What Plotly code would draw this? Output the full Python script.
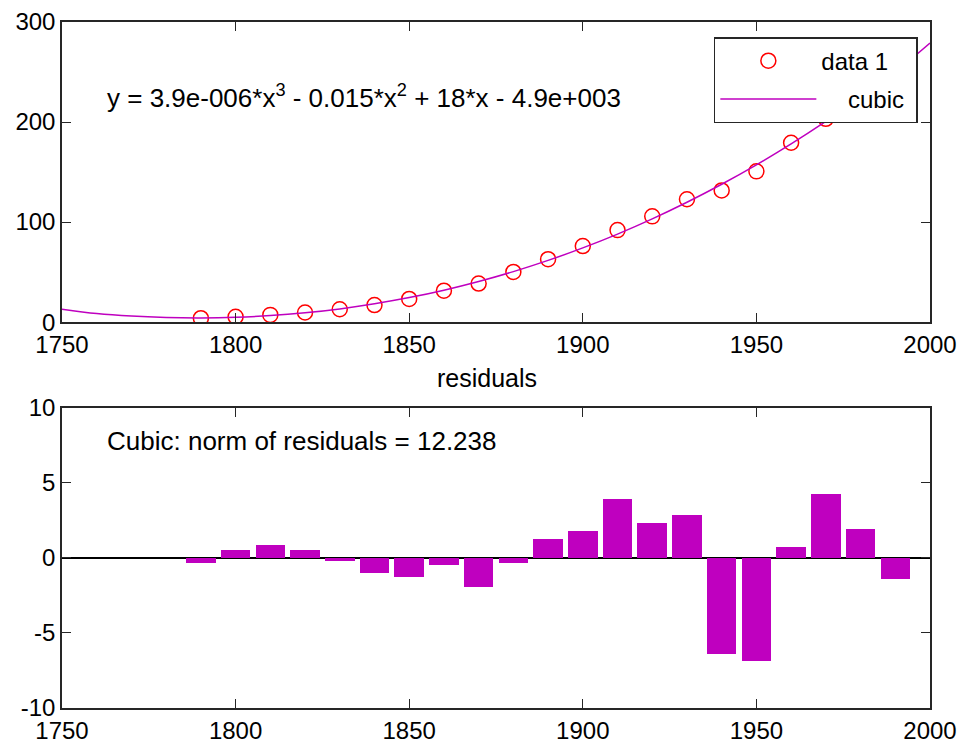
import plotly.graph_objects as go
from plotly.subplots import make_subplots

# census years and population (millions)
years = [1790, 1800, 1810, 1820, 1830, 1840, 1850, 1860, 1870, 1880, 1890,
         1900, 1910, 1920, 1930, 1940, 1950, 1960, 1970, 1980, 1990]
population = [3.93, 5.31, 7.24, 9.64, 12.87, 17.07, 23.19, 31.44, 38.56, 50.16, 62.95,
              76.00, 91.97, 105.71, 122.78, 131.67, 150.70, 179.32, 203.21, 226.51, 248.71]

# cubic fit curve, every 10 years
fit_years = [1750, 1760, 1770, 1780, 1790, 1800, 1810, 1820, 1830, 1840, 1850, 1860, 1870,
             1880, 1890, 1900, 1910, 1920, 1930, 1940, 1950, 1960, 1970, 1980, 1990, 2000]
fit_values = [13.0, 8.6, 6.0, 4.6, 4.2, 4.8, 6.5, 9.3, 13.2, 18.3, 24.5, 31.9, 40.6,
              50.5, 61.7, 74.2, 88.0, 103.2, 119.8, 137.8, 157.2, 178.1, 200.6, 224.5, 250.0, 279.0]

# residuals (data - fit)
residuals = [-0.31, 0.56, 0.84, 0.56, -0.2, -1.0, -1.27, -0.47, -1.96, -0.33, 1.24,
             1.78, 3.91, 2.31, 2.84, -6.36, -6.89, 0.73, 4.29, 1.91, -1.4]

x_ticks = [1750, 1800, 1850, 1900, 1950, 2000]
top_ticks = [0, 100, 200, 300]
res_ticks = [-10, -5, 0, 5, 10]

FONT = "Liberation Sans, Arial, sans-serif"
MAG = "#BF00BF"
NB = "\u00a0"

fig = make_subplots(rows=2, cols=1, vertical_spacing=0.125)

fig.add_trace(go.Scatter(
    x=years, y=population, mode="markers", name="data 1" + NB, legendgroup="a",
    marker=dict(symbol="circle-open", size=15, color="red", line=dict(width=1.5, color="red")),
), row=1, col=1)
fig.add_trace(go.Scatter(
    x=fit_years, y=fit_values, mode="lines", name=NB * 4 + "cubic" + NB, legendgroup="b",
    line=dict(color=MAG, width=1.5, shape="spline"),
), row=1, col=1)
fig.add_trace(go.Bar(
    x=years, y=residuals, width=8.5, marker=dict(color=MAG, line=dict(width=0)),
    showlegend=False,
), row=2, col=1)

axis_style = dict(
    showline=True, linecolor="#262626", linewidth=1.5, mirror="ticks",
    ticks="inside", ticklen=9, tickwidth=1.3, tickcolor="#262626",
    showgrid=False, zeroline=False, automargin=False,
    tickfont=dict(family=FONT, size=24, color="black"),
)

fig.update_xaxes(range=[1750, 2000], tickvals=x_ticks, ticktext=[str(v) for v in x_ticks], **axis_style)
fig.update_yaxes(**axis_style)
fig.update_yaxes(range=[0, 300], tickvals=top_ticks, ticktext=[str(v) for v in top_ticks], row=1, col=1)
fig.update_yaxes(range=[-10, 10], tickvals=res_ticks, ticktext=[str(v) for v in res_ticks], row=2, col=1)
fig.update_yaxes(zeroline=True, zerolinecolor="black", zerolinewidth=1.5, row=2, col=1)

fig.add_annotation(
    x=1762.4, y=226, xref="x", yref="y", xanchor="left", yanchor="middle", showarrow=False,
    text="y = 3.9e-006*x<sup>3</sup> - 0.015*x<sup>2</sup> + 18*x - 4.9e+003",
    font=dict(family=FONT, size=26, color="black"),
)
fig.add_annotation(
    x=1762.4, y=7.8, xref="x2", yref="y2", xanchor="left", yanchor="middle", showarrow=False,
    text="Cubic: norm of residuals = 12.238",
    font=dict(family=FONT, size=26, color="black"),
)
fig.add_annotation(
    x=0.49, y=0.481, xref="paper", yref="paper", xanchor="center", yanchor="middle",
    showarrow=False, text="residuals", font=dict(family=FONT, size=25, color="black"),
)

# the page body adds an 8px offset, so the margins are shifted to compensate
fig.update_layout(
    width=967, height=743,
    margin=dict(l=54, r=45, t=14, b=43),
    plot_bgcolor="white", paper_bgcolor="white",
    font=dict(family=FONT, size=24, color="black"),
    legend=dict(
        x=0.986, y=0.978, xanchor="right", yanchor="top",
        bgcolor="white", bordercolor="#262626", borderwidth=1.5,
        itemwidth=96, tracegroupgap=4, traceorder="grouped",
        font=dict(family=FONT, size=24, color="black"),
    ),
    bargap=0,
)

fig.write_html("out.html")
